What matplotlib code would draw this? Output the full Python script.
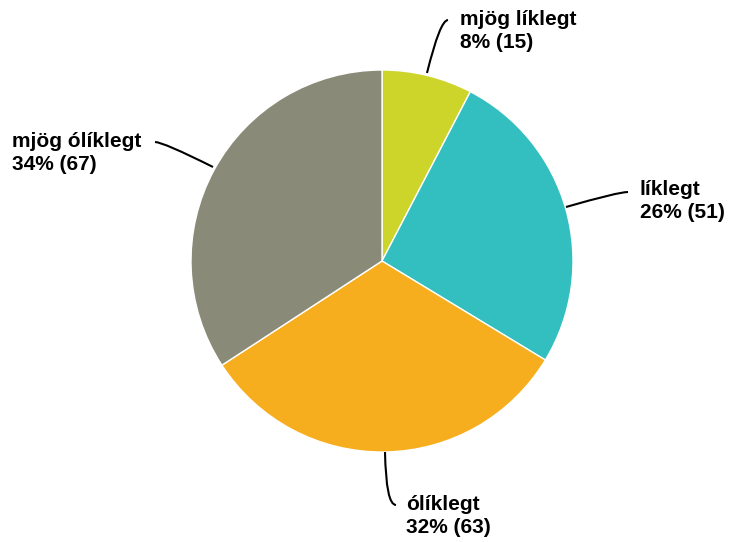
import matplotlib.pyplot as plt
from matplotlib.path import Path
from matplotlib.patches import PathPatch

# ----------------------------
# Data
# ----------------------------
labels = ["mjög líklegt", "líklegt", "ólíklegt", "mjög ólíklegt"]
counts = [15, 51, 63, 67]
percents = [8, 26, 32, 34]
colors = ["#cdd52a", "#33bec0", "#f7ae1e", "#8a8a78"]

W, H = 729, 542
plt.rcParams["font.family"] = ["Liberation Sans", "DejaVu Sans"]

fig = plt.figure(figsize=(W / 100, H / 100), dpi=100)
ax = fig.add_axes([0, 0, 1, 1])

# pie in pixel coordinates (y up)
cx, cy, r = 382, H - 261, 191
ax.pie(counts, colors=colors, startangle=90, counterclock=False,
       center=(cx, cy), radius=r, frame=True,
       wedgeprops=dict(linewidth=1, edgecolor="white"))
ax.set_xlim(0, W)
ax.set_ylim(0, H)
ax.set_aspect("equal")
ax.axis("off")

# leader lines: start, control, end (pixel coords, y down) and text anchor
leaders = [
    ((427, 73), (440, 20), (448, 20), (460, 31)),
    ((566, 207), (618, 192), (628, 192), (640, 201)),
    ((385, 452), (386, 505), (396, 505), (406, 516)),
    ((213, 167), (163, 142), (155, 142), (12, 153)),
]

for (p0, p1, p2, t), lab, pct, cnt in zip(leaders, labels, percents, counts):
    verts = [(p0[0], H - p0[1]), (p1[0], H - p1[1]), (p2[0], H - p2[1])]
    path = Path(verts, [Path.MOVETO, Path.CURVE3, Path.CURVE3])
    ax.add_patch(PathPatch(path, facecolor="none", edgecolor="black", lw=1.5))
    ax.text(t[0], H - t[1], f"{lab}\n{pct}% ({cnt})", ha="left", va="center",
            fontsize=15, fontweight="bold", color="black", linespacing=1.25)

fig.savefig("out.png", dpi=100)
